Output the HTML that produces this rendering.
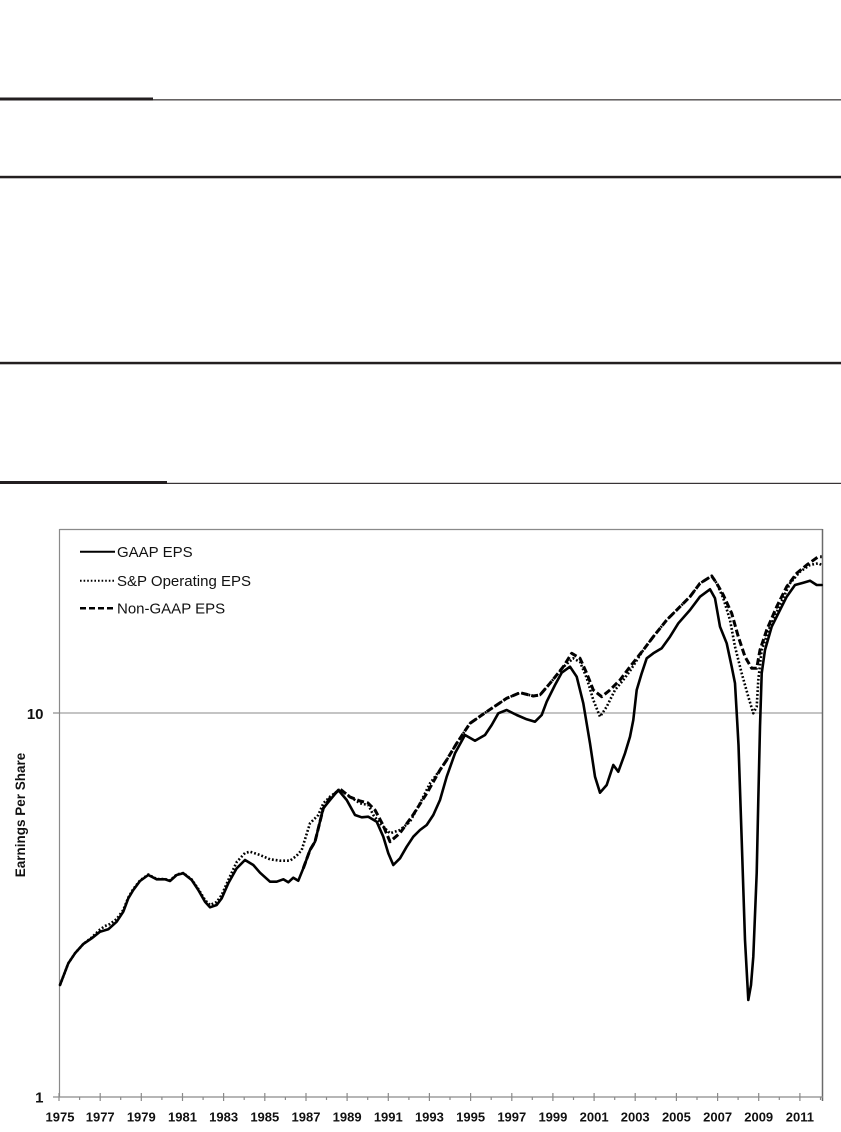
<!DOCTYPE html>
<html>
<head>
<meta charset="utf-8">
<style>
  html, body { margin:0; padding:0; background:#fff; }
  body { width:841px; height:1132px; overflow:hidden; position:relative; }
  svg { position:absolute; left:0; top:0; }
</style>
</head>
<body>
<svg width="841" height="1132" viewBox="0 0 841 1132" xmlns="http://www.w3.org/2000/svg">
  <!-- Horizontal rules -->
  <rect x="0" y="97.5" width="153" height="3" fill="#231f20"/>
  <rect x="0" y="99.3" width="841" height="1.1" fill="#231f20"/>
  <rect x="0" y="175.8" width="841" height="2.5" fill="#231f20"/>
  <rect x="0" y="361.8" width="841" height="2.5" fill="#231f20"/>
  <rect x="0" y="481" width="167" height="3" fill="#231f20"/>
  <rect x="0" y="482.8" width="841" height="1.1" fill="#231f20"/>

  <!-- Plot frame -->
  <line x1="59" y1="713" x2="823" y2="713" stroke="#a0a0a0" stroke-width="1.2"/>
  <line x1="59.5" y1="529.5" x2="822.5" y2="529.5" stroke="#8a8a8a" stroke-width="1.2"/>
  <line x1="822.5" y1="529" x2="822.5" y2="1101" stroke="#6a6a6a" stroke-width="1.5"/>
  <line x1="59.5" y1="529" x2="59.5" y2="1097" stroke="#8a8a8a" stroke-width="1.2"/>
  <line x1="59" y1="1097" x2="823" y2="1097" stroke="#8a8a8a" stroke-width="1.2"/>
  <!-- y ticks -->
  <line x1="53" y1="713" x2="59" y2="713" stroke="#8a8a8a" stroke-width="1.2"/>
  <line x1="53" y1="1097" x2="59" y2="1097" stroke="#8a8a8a" stroke-width="1.2"/>

  <!-- x ticks -->
  <g stroke="#8a8a8a" stroke-width="1.2">
    <line x1="59" y1="1093" x2="59" y2="1101"/>
    <line x1="79.6" y1="1097" x2="79.6" y2="1100"/>
    <line x1="100.2" y1="1093" x2="100.2" y2="1101"/>
    <line x1="120.7" y1="1097" x2="120.7" y2="1100"/>
    <line x1="141.3" y1="1093" x2="141.3" y2="1101"/>
    <line x1="161.9" y1="1097" x2="161.9" y2="1100"/>
    <line x1="182.5" y1="1093" x2="182.5" y2="1101"/>
    <line x1="203.1" y1="1097" x2="203.1" y2="1100"/>
    <line x1="223.6" y1="1093" x2="223.6" y2="1101"/>
    <line x1="244.2" y1="1097" x2="244.2" y2="1100"/>
    <line x1="264.8" y1="1093" x2="264.8" y2="1101"/>
    <line x1="285.4" y1="1097" x2="285.4" y2="1100"/>
    <line x1="306" y1="1093" x2="306" y2="1101"/>
    <line x1="326.5" y1="1097" x2="326.5" y2="1100"/>
    <line x1="347.1" y1="1093" x2="347.1" y2="1101"/>
    <line x1="367.7" y1="1097" x2="367.7" y2="1100"/>
    <line x1="388.3" y1="1093" x2="388.3" y2="1101"/>
    <line x1="408.9" y1="1097" x2="408.9" y2="1100"/>
    <line x1="429.4" y1="1093" x2="429.4" y2="1101"/>
    <line x1="450" y1="1097" x2="450" y2="1100"/>
    <line x1="470.6" y1="1093" x2="470.6" y2="1101"/>
    <line x1="491.2" y1="1097" x2="491.2" y2="1100"/>
    <line x1="511.8" y1="1093" x2="511.8" y2="1101"/>
    <line x1="532.3" y1="1097" x2="532.3" y2="1100"/>
    <line x1="552.9" y1="1093" x2="552.9" y2="1101"/>
    <line x1="573.5" y1="1097" x2="573.5" y2="1100"/>
    <line x1="594.1" y1="1093" x2="594.1" y2="1101"/>
    <line x1="614.7" y1="1097" x2="614.7" y2="1100"/>
    <line x1="635.2" y1="1093" x2="635.2" y2="1101"/>
    <line x1="655.8" y1="1097" x2="655.8" y2="1100"/>
    <line x1="676.4" y1="1093" x2="676.4" y2="1101"/>
    <line x1="697" y1="1097" x2="697" y2="1100"/>
    <line x1="717.6" y1="1093" x2="717.6" y2="1101"/>
    <line x1="738.1" y1="1097" x2="738.1" y2="1100"/>
    <line x1="758.7" y1="1093" x2="758.7" y2="1101"/>
    <line x1="779.3" y1="1097" x2="779.3" y2="1100"/>
    <line x1="799.9" y1="1093" x2="799.9" y2="1101"/>
    <line x1="820.5" y1="1097" x2="820.5" y2="1100"/>
  </g>

  <!-- x labels -->
  <g font-family="Liberation Sans, Arial, sans-serif" font-weight="bold" font-size="13" fill="#111" text-anchor="middle">
    <text x="60" y="1121.5">1975</text>
    <text x="100.2" y="1121.5">1977</text>
    <text x="141.3" y="1121.5">1979</text>
    <text x="182.5" y="1121.5">1981</text>
    <text x="223.6" y="1121.5">1983</text>
    <text x="264.8" y="1121.5">1985</text>
    <text x="306" y="1121.5">1987</text>
    <text x="347.1" y="1121.5">1989</text>
    <text x="388.3" y="1121.5">1991</text>
    <text x="429.4" y="1121.5">1993</text>
    <text x="470.6" y="1121.5">1995</text>
    <text x="511.8" y="1121.5">1997</text>
    <text x="552.9" y="1121.5">1999</text>
    <text x="594.1" y="1121.5">2001</text>
    <text x="635.2" y="1121.5">2003</text>
    <text x="676.4" y="1121.5">2005</text>
    <text x="717.6" y="1121.5">2007</text>
    <text x="758.7" y="1121.5">2009</text>
    <text x="799.9" y="1121.5">2011</text>
  </g>

  <!-- y labels -->
  <g font-family="Liberation Sans, Arial, sans-serif" font-weight="bold" font-size="15" fill="#111" text-anchor="end">
    <text x="43.5" y="719">10</text>
    <text x="43.5" y="1102.5">1</text>
  </g>
  <text transform="translate(25,815) rotate(-90)" font-family="Liberation Sans, Arial, sans-serif" font-weight="bold" font-size="13.5" fill="#111" text-anchor="middle">Earnings Per Share</text>

  <!-- Legend -->
  <line x1="80" y1="551.7" x2="115" y2="551.7" stroke="#000" stroke-width="2"/>
  <line x1="80" y1="580.7" x2="115" y2="580.7" stroke="#000" stroke-width="2" stroke-dasharray="1.6 2"/>
  <line x1="80" y1="608.3" x2="115" y2="608.3" stroke="#000" stroke-width="2.5" stroke-dasharray="6 3"/>
  <g font-family="Liberation Sans, Arial, sans-serif" font-size="15" fill="#111">
    <text x="117" y="557">GAAP EPS</text>
    <text x="117" y="586">S&amp;P Operating EPS</text>
    <text x="117" y="613.7">Non-GAAP EPS</text>
  </g>

  <!-- S&P Operating EPS (dotted) -->
  <polyline fill="none" stroke="#000" stroke-width="2.6" stroke-dasharray="1.8 2" stroke-linejoin="round"
    points="60,985 68.3,963.3 75,953.3 83.3,944 91.7,937.5 100,929.5 105,926 110,924 116.7,919 123.3,910 128.3,897.5 133.3,889 140,880.5 148.3,874.5 156.7,879 165,879 170,880.5 176.7,874.5 183.3,873 191.7,879.5 198.3,889 205,900 210,905 216.7,902 221.7,895 228.3,880 236.7,862 245,853 250,851.7 260,855 270,859.3 280,860.7 290,860.7 296.7,855.7 301.7,850 310,823.3 318.3,815 323.3,803.3 330,796.7 340,789.3 350,796.7 360,803.3 368.3,805 373.3,815 380,823.3 390,833.3 400,830 410,821.7 420,803.3 430,783.3 440,770 446.7,760 456.7,743.3 470,723.3 486.7,711.7 506.7,698.3 520,692.7 533.3,696 540,695 550,683.3 563.3,667 573.3,658.3 580,662 586.7,678 593.3,700 600,716.7 606.7,706.7 615,690 623.3,680 630,671 643.3,650 653.3,636.7 666.7,620 680,606.7 690,596.7 700,583.3 711.7,576 716.7,583.3 723.3,598.3 730,620 735,646.7 741.7,673.3 748.3,696.7 753.3,713.3 756.7,706.7 758.3,680 761.7,650 770,626.7 780,605 790,583.3 800,571.7 810,565 818.3,563.3 821.7,565"/>

  <!-- Non-GAAP EPS (dashed) -->
  <polyline fill="none" stroke="#000" stroke-width="3" stroke-dasharray="7 3" stroke-linejoin="round"
    points="303.3,868.3 310,850 315,841.7 323.3,808.3 330,798 340,789 350,797 360,801 368,803 375,810 383,825 390,841.7 400,833 413,815 427,793 440,770 446.7,760 456.7,743.3 470,723.3 486.7,711.7 506.7,698.3 520,692.7 533.3,696 540,695 550,683.3 563.3,666.7 571.7,653.3 580,658.3 586.7,673.3 593.3,690 601.7,696.7 610,690 620,680 630,666.7 643.3,650 653.3,636.7 666.7,620 680,606.7 690,596.7 700,583.3 711.7,576 716.7,583.3 723.3,595 731.7,613.3 738.3,636.7 745,656.7 751.7,668.3 756.7,668.3 760,650 766.7,630 776.7,606.7 786.7,586.7 796.7,573.3 806.7,565 818.3,556.7 821.7,556.7"/>

  <!-- GAAP EPS (solid) -->
  <polyline fill="none" stroke="#000" stroke-width="2.6" stroke-linejoin="round" stroke-linecap="round"
    points="60,985 68.3,963.3 75,953.3 83.3,944 91.7,938.3 100,931.7 108.3,929.3 116.7,921.7 123.3,911.7 128.3,898.3 133.3,890 140,881 148.3,875 156.7,879.3 165,879.3 170,881 176.7,875 183.3,873.3 191.7,880 198.3,890 205,901.7 210,907.3 216.7,905 221.7,898.3 228.3,883.3 236.7,868.3 245,860 253.3,865 260,872.7 270,881.7 276.7,881.7 283.3,879.3 288.3,882.3 293.3,877.7 298.3,880.7 303.3,868.3 310,850 315,841.7 323.3,808.3 330,800 338.3,790 346.7,800 355,815 361.7,817.3 368.3,816.7 376.7,821.7 383.3,836.7 388.3,853.3 393.3,865 400,858.3 406.7,846.7 413.3,836.7 420,830 426.7,825 433.3,815 440,800 446.7,776.7 455,753.3 465,735 475,740.7 485,735 491.7,725 498.3,713.3 506.7,710 516.7,715 526.7,719.3 535,721.7 541.7,715 546.7,701.7 555,685 561.7,672.7 570,666.7 576.7,676.7 583.3,703.3 590,743.3 595,776.7 600,792.7 606.7,785 613.3,765 618.3,771.7 625,753.3 630,736.7 633.3,720 636.7,690 641.7,673.3 646.7,658.3 653.3,653.3 661.7,648.3 670,636.7 678.3,623.3 690,610 700,596.7 710,589.3 715,598.3 720,626.7 726.7,643.3 731.7,666.7 735,683.3 737.3,723.3 738.5,745 741.7,840 745,940 748.3,1000 751,985 753.3,956.7 756.7,873 758.3,800 760,726.7 761.7,673.3 765,650 771.7,626.7 780,610 786.7,596.7 795,585 803.3,582.7 810,580.7 816.7,585 821.7,585"/>
</svg>
</body>
</html>
